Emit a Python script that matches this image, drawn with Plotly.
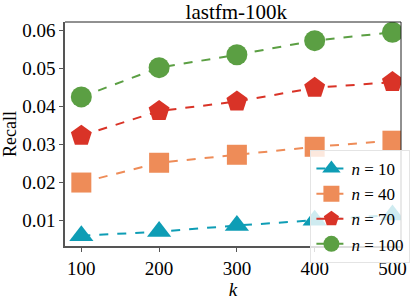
import plotly.graph_objects as go

k_values = [100, 200, 300, 400, 500]
recall_n10 = [0.0060, 0.0071, 0.0087, 0.0101, 0.0115]
recall_n40 = [0.0200, 0.0252, 0.0273, 0.0294, 0.0310]
recall_n70 = [0.0323, 0.0388, 0.0413, 0.0449, 0.0464]
recall_n100 = [0.0425, 0.0502, 0.0536, 0.0573, 0.0595]
series_names = ["<i>n</i> = 10", "<i>n</i> = 40", "<i>n</i> = 70", "<i>n</i> = 100"]
y_ticks = [0.01, 0.02, 0.03, 0.04, 0.05, 0.06]

colors = ["#0E9DB5", "#EE8C58", "#D93327", "#5B9F43"]
symbols = ["triangle-up", "square", "pentagon", "circle"]
sizes = [21, 20, 22, 21]
series = [recall_n10, recall_n40, recall_n70, recall_n100]

fig = go.Figure()
for name, vals, c, s, sz in zip(series_names, series, colors, symbols, sizes):
    fig.add_trace(go.Scatter(
        x=k_values, y=vals, name=name, mode="lines+markers",
        line=dict(color=c, width=2, dash="dash"),
        marker=dict(symbol=s, size=sz, color=c),
    ))

font = "Liberation Serif"
fig.update_layout(
    width=418, height=300,
    margin=dict(l=58, r=8, t=22, b=40),
    paper_bgcolor="white", plot_bgcolor="white",
    font=dict(family=font, size=19, color="black"),
    title=dict(text="lastfm-100k", xref="paper", x=0.51, xanchor="center",
               yref="container", y=0.985, yanchor="top",
               font=dict(family=font, size=21, color="black")),
    showlegend=True,
    legend=dict(x=1.028, y=-0.076, xanchor="right", yanchor="bottom",
                bgcolor="rgba(255,255,255,0.8)", bordercolor="#e4e4e4", borderwidth=1,
                font=dict(family=font, size=17), tracegroupgap=0,
                itemwidth=30),
)
fig.update_xaxes(
    range=[79, 511], tickvals=k_values, ticktext=[str(v) for v in k_values],
    showgrid=False, zeroline=False, ticks="outside", ticklen=4, tickcolor="#555",
    showline=True, linecolor="#555", linewidth=1.5, mirror=False,
    title=dict(text="<i>k</i>", standoff=0, font=dict(family=font, size=19)),
    tickfont=dict(family=font, size=19),
)
fig.update_yaxes(
    range=[0.00332, 0.0622], tickvals=y_ticks, ticktext=[f"{v:.2f}" for v in y_ticks],
    showgrid=False, zeroline=False, ticks="outside", ticklen=4, tickcolor="#555",
    showline=True, linecolor="#555", linewidth=1.5,
    title=dict(text="Recall", standoff=2, font=dict(family=font, size=18)),
    tickfont=dict(family=font, size=19),
)
# top and right frame lines
fig.add_shape(type="line", xref="paper", yref="paper", x0=0, x1=1, y0=1, y1=1,
              line=dict(color="#222", width=1))
fig.add_shape(type="line", xref="paper", yref="paper", x0=1, x1=1, y0=0, y1=1,
              line=dict(color="#222", width=1))

fig.write_html("out.html", config={"displayModeBar": False},
               post_script="document.body.style.margin='0';")
